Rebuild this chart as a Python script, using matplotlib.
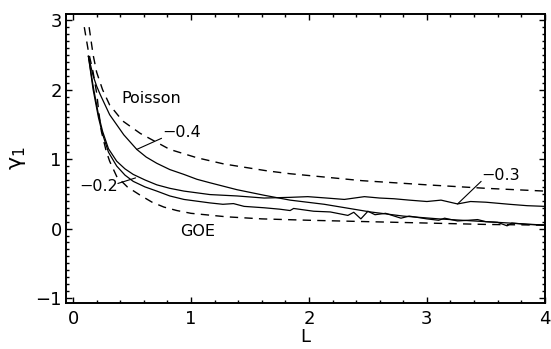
import numpy as np
import matplotlib
matplotlib.use("Agg")
from matplotlib import pyplot as plt
from matplotlib.ticker import MultipleLocator

plt.rcParams['font.family'] = ['DejaVu Sans']

# reference ensembles (dashed)
L_poisson = [0.136, 0.17, 0.2, 0.25, 0.31, 0.42, 0.57, 0.82, 1.05, 1.28, 1.65, 1.84, 2.45, 3.0, 3.5, 4.0]
g_poisson = [2.9, 2.5, 2.25, 2.0, 1.78, 1.55, 1.37, 1.14, 1.02, 0.93, 0.83, 0.79, 0.69, 0.63, 0.58, 0.54]

L_goe = [0.095, 0.13, 0.17, 0.2, 0.22, 0.24, 0.28, 0.31, 0.37, 0.46, 0.57, 0.67, 0.77, 0.88, 1.0, 1.3,
         1.6, 2.0, 2.5, 3.0, 3.5, 4.0]
g_goe = [2.9, 2.55, 2.25, 1.95, 1.65, 1.4, 1.12, 0.97, 0.75, 0.6, 0.48, 0.38, 0.31, 0.26, 0.22, 0.17,
         0.14, 0.12, 0.10, 0.08, 0.06, 0.05]

# computed skewness curves (solid)
L_m04 = [0.13, 0.17, 0.2, 0.23, 0.31, 0.43, 0.54, 0.62, 0.71, 0.82, 0.94, 1.05, 1.16, 1.39, 1.62, 1.84,
         2.13, 2.52, 2.8, 3.1, 3.4, 3.7, 4.0]
g_m04 = [2.48, 2.2, 2.05, 1.93, 1.64, 1.35, 1.14, 1.03, 0.94, 0.85, 0.78, 0.71, 0.66, 0.56, 0.48, 0.41,
         0.35, 0.24, 0.18, 0.14, 0.11, 0.08, 0.05]

L_m03 = [0.13, 0.17, 0.215, 0.25, 0.3, 0.37, 0.44, 0.51, 0.61, 0.71, 0.82, 0.94, 1.16, 1.39, 1.62, 1.84,
         1.99, 2.15, 2.3, 2.47, 2.6, 2.72, 2.85, 3.0, 3.12, 3.26, 3.37, 3.5, 3.7, 3.85, 4.0]
g_m03 = [2.48, 2.05, 1.64, 1.4, 1.15, 0.97, 0.86, 0.78, 0.7, 0.63, 0.58, 0.54, 0.49, 0.47, 0.44, 0.45,
         0.46, 0.44, 0.42, 0.46, 0.44, 0.43, 0.41, 0.39, 0.41, 0.355, 0.39, 0.38, 0.35, 0.33, 0.32]

L_m02 = [0.13, 0.17, 0.215, 0.25, 0.3, 0.37, 0.44, 0.51, 0.61, 0.71, 0.82, 0.94, 1.16, 1.27, 1.36, 1.45,
         1.62, 1.75, 1.84, 1.87, 2.04, 2.18, 2.33, 2.38, 2.44, 2.5, 2.56, 2.65, 2.78, 2.85, 3.0, 3.1,
         3.15, 3.26, 3.35, 3.43, 3.5, 3.6, 3.68, 3.72, 3.85, 4.0]
g_m02 = [2.48, 2.0, 1.6, 1.36, 1.1, 0.9, 0.77, 0.68, 0.6, 0.54, 0.47, 0.42, 0.37, 0.35, 0.36, 0.32,
         0.30, 0.28, 0.26, 0.29, 0.25, 0.24, 0.19, 0.235, 0.14, 0.25, 0.2, 0.22, 0.15, 0.18, 0.14, 0.12,
         0.15, 0.11, 0.12, 0.13, 0.10, 0.09, 0.04, 0.08, 0.06, 0.05]

fig = plt.figure(figsize=(5.51, 3.49), dpi=100)
ax = fig.add_axes([0.1198, 0.132, 0.869, 0.828])

dash = (0, (6, 4.5))
ax.plot(L_poisson, g_poisson, color='black', lw=1.0, linestyle=dash)
ax.plot(L_goe, g_goe, color='black', lw=1.0, linestyle=dash)
ax.plot(L_m04, g_m04, color='black', lw=0.9)
ax.plot(L_m03, g_m03, color='black', lw=0.9)
ax.plot(L_m02, g_m02, color='black', lw=0.9)

ax.set_xlim(-0.06, 4.0)
ax.set_ylim(-1.07, 3.09)
ax.xaxis.set_major_locator(MultipleLocator(1))
ax.xaxis.set_minor_locator(MultipleLocator(0.2))
ax.yaxis.set_major_locator(MultipleLocator(1))
ax.yaxis.set_minor_locator(MultipleLocator(0.1))
ax.tick_params(which='both', direction='in', top=True, right=True, width=1.0, labelsize=13)
ax.tick_params(which='major', length=4.5)
ax.tick_params(which='minor', length=2.5)
ax.tick_params(axis='x', pad=5)
ax.tick_params(axis='y', pad=3)
for s in ax.spines.values():
    s.set_linewidth(1.4)

ax.set_xlabel('L', fontsize=13, labelpad=0)
ax.set_ylabel(r'$\mathrm{\gamma_1}$', fontsize=16, labelpad=5)

# curve labels with leader lines
ax.text(0.41, 1.87, 'Poisson', fontsize=11.5, ha='left', va='center')
ax.text(0.91, -0.04, 'GOE', fontsize=11.5, ha='left', va='center')
ax.text(0.76, 1.38, '\u22120.4', fontsize=11.5, ha='left', va='center')
ax.text(0.05, 0.60, '\u22120.2', fontsize=11.5, ha='left', va='center')
ax.text(3.46, 0.76, '\u22120.3', fontsize=11.5, ha='left', va='center')

lead = dict(arrowstyle='-', lw=0.8, color='black', shrinkA=0, shrinkB=0)
ax.annotate('', xy=(0.54, np.interp(0.54, L_m04, g_m04)), xytext=(0.75, 1.30), arrowprops=lead)
ax.annotate('', xy=(0.53, 0.73), xytext=(0.38, 0.65), arrowprops=lead)
ax.annotate('', xy=(3.26, np.interp(3.26, L_m03, g_m03)), xytext=(3.46, 0.68), arrowprops=lead)

fig.savefig('out.png', dpi=100)
